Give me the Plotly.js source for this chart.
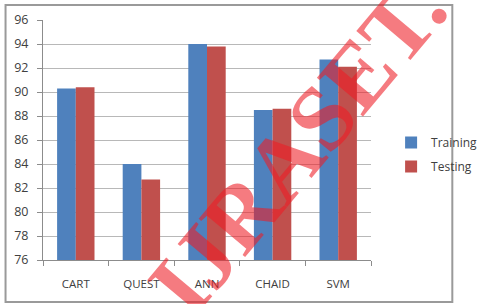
<!DOCTYPE html>
<html>
<head>
<meta charset="utf-8">
<script src="https://cdn.plot.ly/plotly-3.0.1.min.js"></script>
<style>html,body{margin:0;padding:0;background:#fff;}#chart{width:494px;height:304px;}</style>
</head>
<body>
<div id="chart"></div>
<script>
const categories = ["CART", "QUEST", "ANN", "CHAID", "SVM"];
const training = [90.3, 84.0, 94.0, 88.5, 92.7];
const testing = [90.4, 82.7, 93.8, 88.6, 92.1];
const yTicks = [76, 78, 80, 82, 84, 86, 88, 90, 92, 94, 96];

const W = 494, H = 304;
const L = 43, R = 92, T = 20, B = 44;
const pw = W - L - R, ph = H - T - B;
function px(x) { return (x - L) / pw; }
function py(y) { return (H - B - y) / ph; }

const data = [
  {type: "bar", name: "Training", x: categories, y: training, marker: {color: "#4F81BD"}, legendgroup: "a"},
  {type: "bar", name: "Testing", x: categories, y: testing, marker: {color: "#C0504D"}, legendgroup: "b"}
];

const layout = {
  width: W, height: H,
  margin: {l: L, r: R, t: T, b: B, pad: 0},
  paper_bgcolor: "#fff", plot_bgcolor: "#fff",
  barmode: "group", bargap: 0.43, bargroupgap: 0,
  font: {family: "Open Sans, sans-serif", size: 12, color: "#404040"},
  xaxis: {
    type: "category", showgrid: false, showline: true, linecolor: "#8c8c8c", linewidth: 1,
    ticks: "outside", tickson: "boundaries", ticklen: 5, tickcolor: "#8c8c8c",
    ticklabelstandoff: 13, tickfont: {size: 11.5, color: "#404040"}, zeroline: false
  },
  yaxis: {
    range: [76, 96], tickvals: yTicks, ticktext: yTicks.map(String),
    showgrid: true, gridcolor: "#b8b8b8", gridwidth: 1,
    showline: true, linecolor: "#8c8c8c", linewidth: 1,
    ticks: "outside", ticklen: 5, tickcolor: "#8c8c8c",
    ticklabelstandoff: 6, tickfont: {size: 12.5, color: "#404040"}, zeroline: false
  },
  showlegend: true,
  legend: {
    x: px(424), y: py(128), xanchor: "left", yanchor: "top",
    traceorder: "grouped", tracegroupgap: 5, itemwidth: 30,
    font: {size: 12, color: "#404040"}, bgcolor: "rgba(0,0,0,0)"
  },
  shapes: [
    {type: "rect", xref: "paper", yref: "paper", x0: px(2), x1: px(491), y0: py(302), y1: py(5),
     line: {color: "#9a9a9a", width: 2}, layer: "below"}
  ],
  annotations: [
    {xref: "paper", yref: "paper", x: px(322), y: py(146), xanchor: "center", yanchor: "middle",
     text: "IJRASET.", showarrow: false, textangle: -50,
     font: {family: "Liberation Serif, serif", size: 92, color: "rgba(238,28,36,0.58)", weight: "bold"}}
  ]
};

Plotly.newPlot("chart", data, layout, {displayModeBar: false, staticPlot: true});
</script>
</body>
</html>
